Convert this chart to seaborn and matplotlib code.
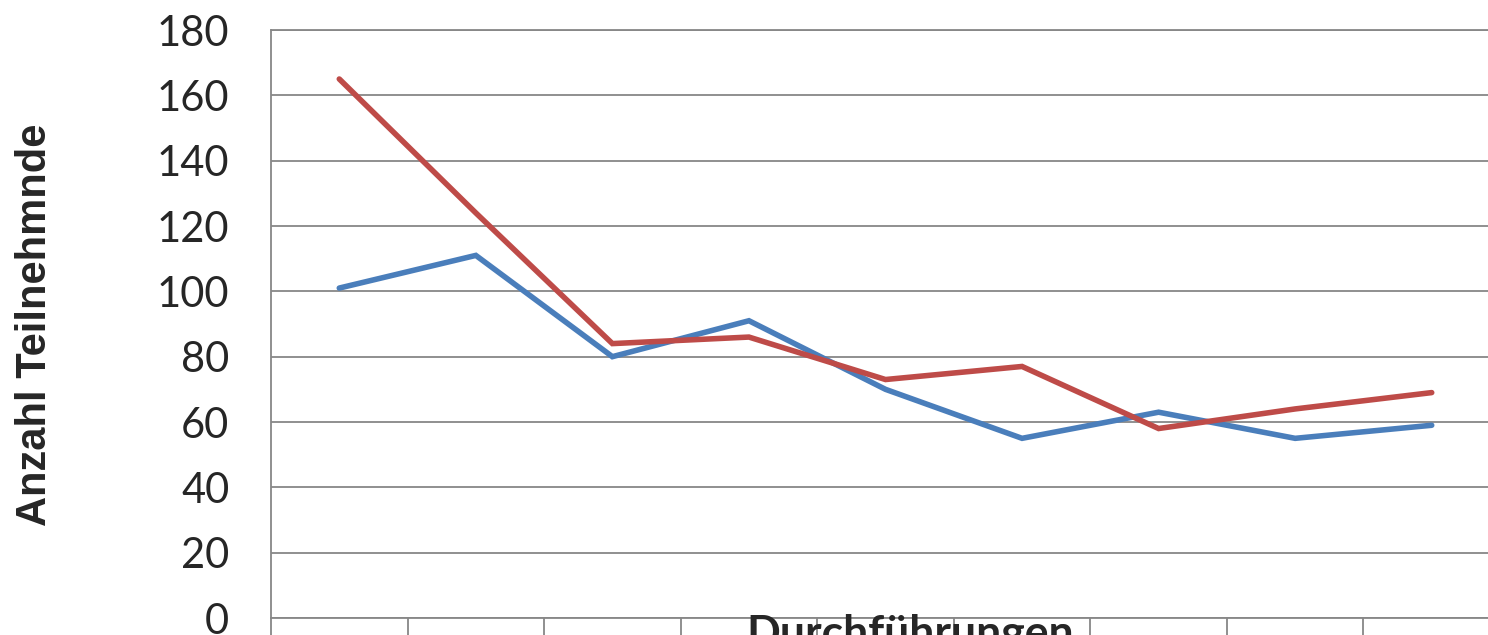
import matplotlib
matplotlib.use("Agg")
import matplotlib.pyplot as plt
import numpy as np
import pandas as pd
import seaborn as sns

# Werte (9 Durchführungen)
durchfuehrungen = [1, 2, 3, 4, 5, 6, 7, 8, 9]
serie_blau = [101, 111, 80, 91, 70, 55, 63, 55, 59]
serie_rot = [165, 124, 84, 86, 73, 77, 58, 64, 69]
y_ticks = [0, 20, 40, 60, 80, 100, 120, 140, 160, 180]

df = pd.DataFrame({
    "Durchführung": durchfuehrungen * 2,
    "Anzahl": serie_blau + serie_rot,
    "Serie": ["blau"] * len(serie_blau) + ["rot"] * len(serie_rot),
})
df["pos"] = df["Durchführung"] - 1

sns.set_style("white")
plt.rcParams["font.family"] = ["Lato", "DejaVu Sans"]

fig = plt.figure(figsize=(14.88, 6.35), dpi=100)
ax = fig.add_axes([271 / 1488, 17 / 635, (1500 - 271) / 1488, (618 - 30) / 635])

sns.lineplot(
    data=df, x="pos", y="Anzahl", hue="Serie",
    palette={"blau": "#4A7EBB", "rot": "#BE4B48"},
    linewidth=4, legend=False, ax=ax,
)
for line in ax.lines:
    line.set_solid_capstyle("round")
    line.set_solid_joinstyle("miter")

ax.set_xlim(-0.5, len(durchfuehrungen) - 0.5)
ax.set_ylim(0, 180)
ax.set_yticks(y_ticks)
ax.set_yticklabels([str(v) for v in y_ticks], fontsize=30)
ax.yaxis.grid(True, color="#878787", linewidth=1.3)
ax.set_axisbelow(True)

# Kategoriegrenzen als Tickmarken unter der Achse
ax.set_xticks(np.arange(len(durchfuehrungen) + 1) - 0.5)
ax.set_xticklabels([])
ax.tick_params(axis="x", bottom=True, length=20, width=1.3, color="#878787", direction="out")
ax.tick_params(axis="y", left=False, length=0, pad=30)

for side in ["top", "right"]:
    ax.spines[side].set_visible(False)
for side in ["left", "bottom"]:
    ax.spines[side].set_color("#878787")
    ax.spines[side].set_linewidth(1.3)
ax.set_xlabel("")
ax.set_ylabel("")

# oberste Gitterlinie als Rahmen
ax.axhline(180, color="#878787", linewidth=1.3, clip_on=False)

fig.text(35 / 1488, 1 - 325 / 635, "Anzahl Teilnehmnde", rotation=90,
         ha="center", va="center", fontsize=30, fontweight="bold",
         family=["Liberation Sans", "DejaVu Sans"])
fig.text(910 / 1488, 1 - 613 / 635, "Durchführungen", ha="center", va="top",
         fontsize=32, fontweight="bold")

fig.savefig("out.png", dpi=100)
